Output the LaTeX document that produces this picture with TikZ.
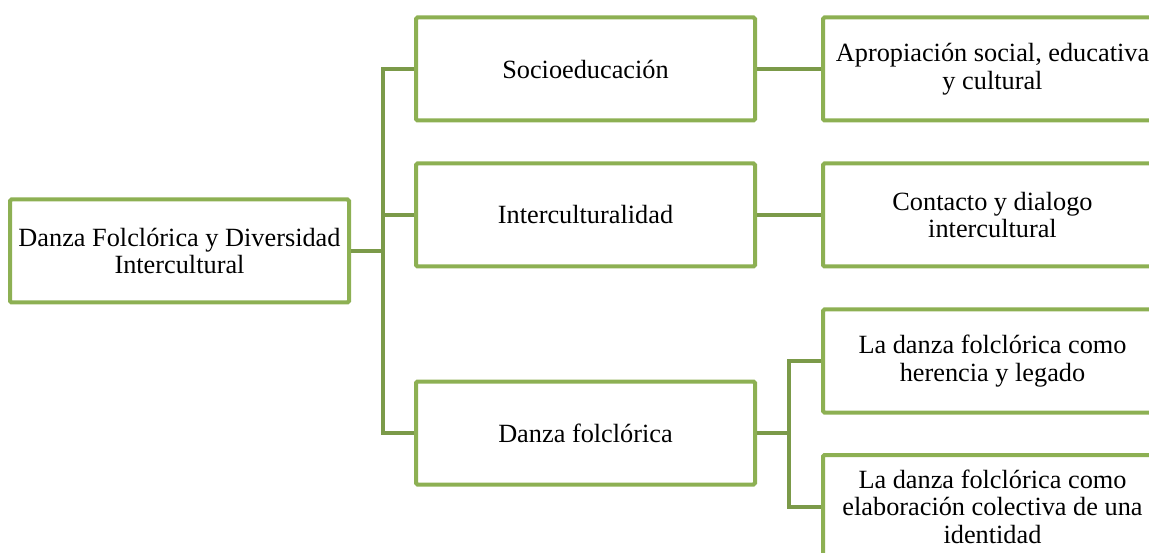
\documentclass[tikz,border=0pt]{standalone}
\usepackage{fontspec}
\setmainfont{Liberation Serif}
\usepackage{xcolor}
\usepackage{tikz}
\definecolor{boxgreen}{HTML}{8DB053}
\definecolor{linkgreen}{HTML}{7B9A49}

\begin{document}
\begin{tikzpicture}[x=1pt,y=-1pt]
  \tikzstyle{blk}=[draw=boxgreen,line width=4pt,rectangle,rounded corners=1.5pt,minimum height=103pt,minimum width=339pt,align=center,inner sep=2pt,font=\fontsize{26.3}{27.5}\selectfont]
  \tikzstyle{lnk}=[draw=linkgreen,line width=4pt]
  \useasboundingbox (0,0) rectangle (1149,553);

  % Level 1
  \node[blk] (root) at (179.5,251) {Danza Folclórica y Diversidad\\Intercultural};

  % Level 2
  \node[blk] (soc) at (585.5,69) {Socioeducación};
  \node[blk] (inter) at (585.5,215) {Interculturalidad};
  \node[blk] (danza) at (585.5,433) {Danza folclórica};

  % Level 3
  \node[blk] (apro) at (992.5,69) {Apropiación social, educativa\\y cultural};
  \node[blk] (cont) at (992.5,215) {Contacto y dialogo\\intercultural};
  \node[blk] (her) at (992.5,361) {La danza folclórica como\\herencia y legado};
  \node[blk] (elab) at (992.5,506.5) {La danza folclórica como\\elaboración colectiva de una\\identidad};

  % Links
  \coordinate (j1) at (383,251);
  \coordinate (j2) at (788.5,433);
  \draw[lnk] (root.east) -- (j1);
  \draw[lnk] (j1) |- (soc.west);
  \draw[lnk] (j1) |- (inter.west);
  \draw[lnk] (j1) |- (danza.west);
  \draw[lnk] (soc.east) -- (apro.west);
  \draw[lnk] (inter.east) -- (cont.west);
  \draw[lnk] (danza.east) -- (j2);
  \draw[lnk] (j2) |- (her.west);
  \draw[lnk] (j2) |- (elab.west);
\end{tikzpicture}
\end{document}
